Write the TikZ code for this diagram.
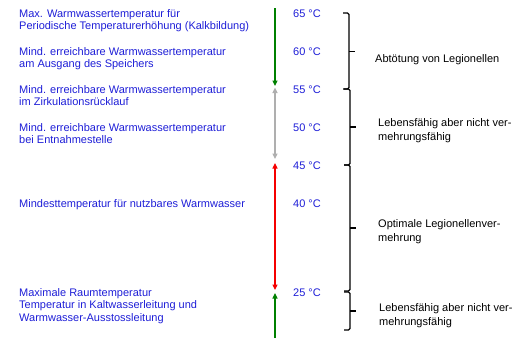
\documentclass[tikz,border=0pt]{standalone}
\usepackage{fontspec}
\setmainfont{Liberation Sans}
\usetikzlibrary{arrows.meta}
\definecolor{txtblue}{RGB}{30,30,215}
\definecolor{axgreen}{RGB}{0,128,0}
\definecolor{axgray}{RGB}{175,175,175}
\definecolor{axred}{RGB}{245,0,0}

\begin{document}
\begin{tikzpicture}[x=1pt, y=-1pt, >={Triangle[width=5pt,length=5.5pt]},
  desc/.style={anchor=base west, align=left, inner sep=0pt, text=txtblue,
    font=\fontsize{11}{12.4}\selectfont},
  temp/.style={anchor=base west, inner sep=0pt, text=txtblue,
    font=\fontsize{11}{12.4}\selectfont},
  note/.style={anchor=base west, align=left, inner sep=0pt,
    font=\fontsize{11}{14.3}\selectfont},
  axis/.style={line width=1.2pt},
  brace/.style={line width=1.2pt, rounded corners=1.5pt}]
  \useasboundingbox (0,0) rectangle (529,360);

  % Descriptions (left column), placed at the baseline of their last line
  \node[desc] (d65) at (19,29.9) {Max. Warmwassertemperatur für\\Periodische Temperaturerhöhung (Kalkbildung)};
  \node[desc] (d60) at (19,67.5) {Mind. erreichbare Warmwassertemperatur\\am Ausgang des Speichers};
  \node[desc] (d55) at (19,105.5) {Mind. erreichbare Warmwassertemperatur\\im Zirkulationsrücklauf};
  \node[desc] (d50) at (19,143.5) {Mind. erreichbare Warmwassertemperatur\\bei Entnahmestelle};
  \node[desc] (d40) at (19,207.5) {Mindesttemperatur für nutzbares Warmwasser};
  \node[desc] (d25) at (19,321.3) {Maximale Raumtemperatur\\Temperatur in Kaltwasserleitung und\\Warmwasser-Ausstossleitung};

  % Temperatures
  \node[temp] (t65) at (293,17.5) {65 °C};
  \node[temp] (t60) at (293,55.5) {60 °C};
  \node[temp] (t55) at (293,93.5) {55 °C};
  \node[temp] (t50) at (293,131.5) {50 °C};
  \node[temp] (t45) at (293,169.5) {45 °C};
  \node[temp] (t40) at (293,207.5) {40 °C};
  \node[temp] (t25) at (293,296.5) {25 °C};

  % Temperature axis
  \coordinate (top) at (275,8);
  \coordinate (a55) at (275,86);
  \coordinate (b55) at (275,87.5);
  \coordinate (a45) at (275,159);
  \coordinate (b45) at (275,163);
  \coordinate (a25) at (275,290);
  \coordinate (b25) at (275,293);
  \coordinate (bot) at (275,338);
  \draw[->, axis, draw=axgreen, fill=axgreen] (top) -- (a55);
  \draw[<->, axis, draw=axgray, fill=axgray] (b55) -- (a45);
  \draw[<->, axis, draw=axred, fill=axred] (b45) -- (a25);
  \draw[->, axis, draw=axgreen, fill=axgreen] (bot) -- (b25);

  % Brackets
  \draw[brace] (343,13) -- (349,13) -- (349,89) -- (343,89);
  \draw[brace] (349,51.5) -- (355,51.5);
  \draw[brace] (344,89) -- (350,89) -- (350,165) -- (344,165);
  \draw[brace] (350,127) -- (356,127);
  \draw[brace] (344,165) -- (350,165) -- (350,291) -- (344,291);
  \draw[brace] (350,228) -- (356,228);
  \draw[brace] (344,292) -- (350,292) -- (350,330) -- (344,330);
  \draw[brace] (350,311) -- (356,311);

  % Notes to the brackets
  \node[note] (n1) at (375,62) {Abtötung von Legionellen};
  \node[note] (n2) at (378,140.8) {Lebensfähig aber nicht ver-\\mehrungsfähig};
  \node[note] (n3) at (378,241.8) {Optimale Legionellenver-\\mehrung};
  \node[note] (n4) at (379,325.8) {Lebensfähig aber nicht ver-\\mehrungsfähig};
\end{tikzpicture}
\end{document}
